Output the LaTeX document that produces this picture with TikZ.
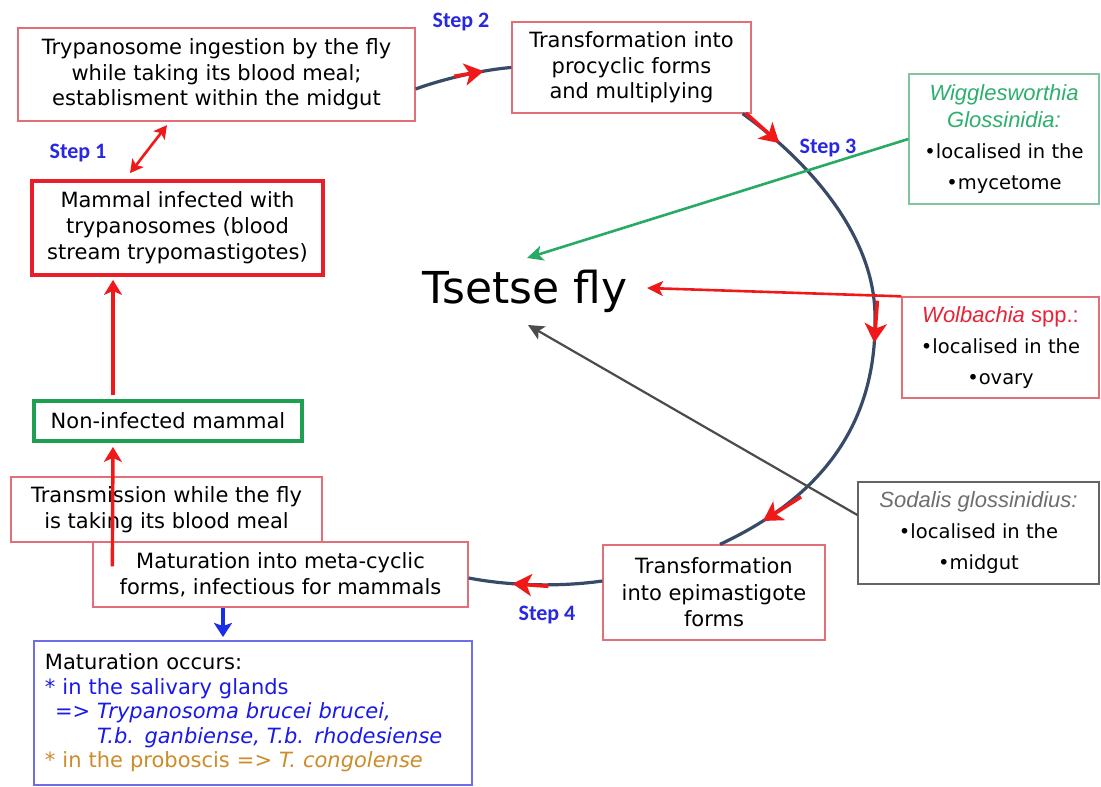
\documentclass[tikz,border=0pt]{standalone}
\usepackage{fontspec}
\setmainfont{DejaVu Sans}
\newfontfamily\arialfont{Liberation Sans}
\newfontfamily\stepfont{Carlito}
\usetikzlibrary{arrows.meta,decorations.markings,calc}
\definecolor{boxred}{RGB}{226,110,120}
\definecolor{thickred}{RGB}{232,30,40}
\definecolor{thickgreen}{RGB}{30,160,80}
\definecolor{wiggbox}{RGB}{130,195,160}
\definecolor{wiggtext}{RGB}{45,175,110}
\definecolor{wolbred}{RGB}{232,35,55}
\definecolor{sodgray}{RGB}{100,100,100}
\definecolor{sodtext}{RGB}{110,110,110}
\definecolor{blueboxc}{RGB}{110,110,230}
\definecolor{bluetext}{RGB}{25,25,235}
\definecolor{orangetext}{RGB}{205,140,40}
\definecolor{arcblue}{RGB}{55,75,105}
\definecolor{arrred}{RGB}{240,25,25}
\definecolor{arrgreen}{RGB}{40,170,100}
\definecolor{arrgray}{RGB}{75,75,75}
\definecolor{arrblue}{RGB}{25,45,230}
\definecolor{stepblue}{RGB}{40,40,225}
\begin{document}
\begin{tikzpicture}[x=1pt,y=-1pt,
  box/.style={draw=boxred, line width=1.3pt, fill=white, align=center, inner sep=0pt,
    font=\fontsize{21}{25.5}\selectfont},
  symbox/.style={draw, line width=1.3pt, fill=white, align=center, inner sep=0pt,
    font=\fontsize{19.5}{31}\selectfont},
  arcline/.style={draw=arcblue, line width=3.2pt},
  redarr/.style={draw=arrred, line width=3.6pt, -{Stealth[length=19pt,width=22pt,inset=5pt]}},
  redline/.style={draw=arrred, line width=3.4pt, -{Stealth[length=15pt,width=18pt,inset=4pt]}},
  steplabel/.style={font=\stepfont\bfseries\fontsize{22}{24}\selectfont, text=stepblue},
]
\useasboundingbox (0,0) rectangle (1101,787);
\fill[white] (0,0) rectangle (1101,787);

% boxes
\node[box, minimum width=397pt, minimum height=93pt] (ing) at (216.5,74.5)
  {Trypanosome ingestion by the fly\\while taking its blood meal;\\establisment within the midgut};
\node[box, minimum width=239pt, minimum height=91pt] (proc) at (631.5,67.5)
  {Transformation into\\procyclic forms\\and multiplying};
\node[box, draw=thickred, line width=3.8pt, minimum width=291pt, minimum height=94pt,
  font=\fontsize{21}{26}\selectfont] (inf) at (177.5,228)
  {Mammal infected with\\trypanosomes (blood\\stream trypomastigotes)};
\node[box, draw=thickgreen, line width=3.8pt, minimum width=268pt, minimum height=40pt] (non) at (168,421)
  {Non-infected mammal};
\node[box, minimum width=311pt, minimum height=65pt, font=\fontsize{21}{26}\selectfont] (trans) at (166.5,509.5)
  {Transmission while the fly\\is taking its blood meal};
\node[box, minimum width=375pt, minimum height=65pt, font=\fontsize{21}{26}\selectfont] (mat) at (280.5,574.5)
  {Maturation into meta-cyclic\\forms, infectious for mammals};
\node[box, minimum width=222pt, minimum height=95pt, font=\fontsize{21}{26.5}\selectfont] (epi) at (714,592.5)
  {Transformation\\into epimastigote\\forms};
\node[draw=blueboxc, line width=2pt, fill=white, minimum width=438pt, minimum height=144pt,
  text width=416pt, inner xsep=11pt, inner ysep=0pt, align=left,
  font=\fontsize{21}{24.5}\selectfont] (blue) at (253,713)
  {Maturation occurs:\\
   \textcolor{bluetext}{* in the salivary glands}\\
   \textcolor{bluetext}{\hspace*{10pt}=> \textit{Trypanosoma brucei brucei,}}\\
   \textcolor{bluetext}{\hspace*{52pt}\textit{T.b. ganbiense, T.b. rhodesiense}}\\
   \textcolor{orangetext}{* in the proboscis => \textit{T. congolense}}};

% symbiont boxes
\node[symbox, draw=wiggbox, minimum width=190pt, minimum height=130pt] (wigg) at (1004,139)
  {\textcolor{wiggtext}{\arialfont\itshape\fontsize{22}{26}\selectfont Wigglesworthia}\\[-4pt]
   \textcolor{wiggtext}{\arialfont\itshape\fontsize{22}{26}\selectfont Glossinidia:}\\
   •localised in the\\
   •mycetome};
\node[symbox, draw=boxred, minimum width=197pt, minimum height=101pt] (wolb) at (1000.5,347.5)
  {\textcolor{wolbred}{\arialfont\fontsize{22}{26}\selectfont\textit{Wolbachia} spp.:}\\
   •localised in the\\
   •ovary};
\node[symbox, draw=sodgray, minimum width=241pt, minimum height=102pt] (sod) at (978.5,533)
  {\textcolor{sodtext}{\arialfont\itshape\fontsize{22}{26}\selectfont Sodalis glossinidius:}\\
   •localised in the\\
   •midgut};

% central label
\node[inner sep=0pt, font=\fontsize{44}{48}\selectfont] (fly) at (525,291.5) {Tsetse fly};

% cycle arcs
\coordinate (R) at (875,317);
\draw[arcline, postaction={decorate}, decoration={markings,
    mark=at position -28pt with {\draw[redarr] (-30pt,0) -- (0pt,0);}}]
  ([yshift=-14.5pt]ing.east) .. controls (440,80) and (480,70) .. (proc.west);
\draw[arcline, postaction={decorate}, decoration={markings,
    mark=at position 47pt with {\draw[redarr] (-45pt,0) -- (0pt,0);},
    mark=at position 277pt with {\draw[redarr] (-42pt,0) -- (0pt,0);},
    mark=at position -49pt with {\draw[redarr] (-45pt,0) -- (0pt,0);}}]
  ([xshift=-9pt]proc.south east) .. controls (800,155) and (875,230) .. (R)
  .. controls (877,430) and (815,500) .. ([xshift=6pt]epi.north);
\draw[arcline, postaction={decorate}, decoration={markings,
    mark=at position 90pt with {\draw[redarr] (-36pt,0) -- (0pt,0);}}]
  ([yshift=11.5pt]epi.west) .. controls (560,587) and (510,586) .. ([yshift=-3.5pt]mat.east);

% symbiont arrows
\draw[draw=arrgreen, line width=2.6pt, -{Stealth[length=16pt,width=15pt,inset=4pt]}]
  (wigg.west) -- ([xshift=2pt,yshift=33.5pt]fly.center);
\draw[draw=arrred, line width=2.6pt, -{Stealth[length=16pt,width=15pt,inset=4pt]}]
  (wolb.north west) -- ([xshift=122pt,yshift=3.5pt]fly.center);
\draw[draw=arrgray, line width=2.2pt, -{Stealth[length=16pt,width=15pt,inset=4pt]}]
  ([yshift=18pt]sod.west) -- ([xshift=3pt,yshift=-33.5pt]fly.center);

% mammal arrows
\draw[draw=arrred, line width=2.6pt, {Stealth[length=13pt,width=14pt,inset=3pt]}-{Stealth[length=13pt,width=14pt,inset=3pt]}]
  ([xshift=-47.5pt,yshift=6pt]inf.north) -- ([xshift=-49.5pt,yshift=-3.5pt]ing.south);
\draw[redline] ([xshift=-55pt,yshift=4pt]non.north) -- ([xshift=-64.5pt,yshift=-3pt]inf.south);
\draw[redline] ([xshift=20pt,yshift=-25pt]mat.north west) -- ([xshift=-55pt,yshift=-4pt]non.south);
\draw[draw=arrblue, line width=3.6pt, -{Stealth[length=14pt,width=18pt,inset=3pt]}]
  ([xshift=-57.5pt]mat.south) -- ([xshift=-30pt,yshift=3pt]blue.north);

% step labels
\node[steplabel] (s1) at (78,153) {Step 1};
\node[steplabel] (s2) at (461,22) {Step 2};
\node[steplabel] (s3) at (828,148) {Step 3};
\node[steplabel] (s4) at (547,615) {Step 4};
\end{tikzpicture}
\end{document}
